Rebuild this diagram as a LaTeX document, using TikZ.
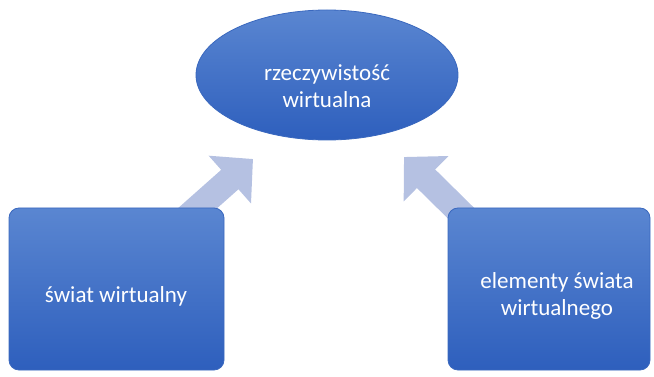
\documentclass[tikz,border=0pt]{standalone}
\usepackage{fontspec}
\setmainfont{Carlito}
\usetikzlibrary{shapes.geometric,arrows.meta}
\definecolor{btop}{HTML}{5A86D1}
\definecolor{bbot}{HTML}{2E5FBD}
\definecolor{bedge}{HTML}{3A68BE}
\definecolor{arr}{HTML}{B5C1E2}
\tikzset{
  x=1pt,y=-1pt,
  blob/.style={top color=btop,bottom color=bbot,draw=bedge,line width=0.8pt},
  boxnode/.style={blob,rectangle,rounded corners=10pt,minimum height=162pt,inner sep=0pt},
  ovalnode/.style={blob,ellipse,minimum width=262pt,minimum height=130pt,inner sep=0pt},
  lbl/.style={text=white,font=\fontsize{23}{27}\selectfont,align=center,inner sep=0pt},
  bigarrow/.style={draw=arr,line width=26pt,-{Triangle[length=31pt,width=62pt]}}
}
\begin{document}
\begin{tikzpicture}
\useasboundingbox (0,0) rectangle (654,377);
\coordinate (la) at (182,222);
\coordinate (lt) at (253,159);
\coordinate (ra) at (472,224);
\coordinate (rt) at (404,157);
\draw[bigarrow] (la) -- (lt);
\draw[bigarrow] (ra) -- (rt);
\node[ovalnode] (vr) at (327,75) {};
\node[lbl] (vrt) at (327,86) {rzeczywistość\\wirtualna};
\node[boxnode,minimum width=215pt] (sw) at (116.5,289) {};
\node[lbl] (swt) at (116,296) {świat wirtualny};
\node[boxnode,minimum width=202pt] (el) at (549,289) {};
\node[lbl] (elt) at (557,296) {elementy świata\\wirtualnego};
\end{tikzpicture}
\end{document}
